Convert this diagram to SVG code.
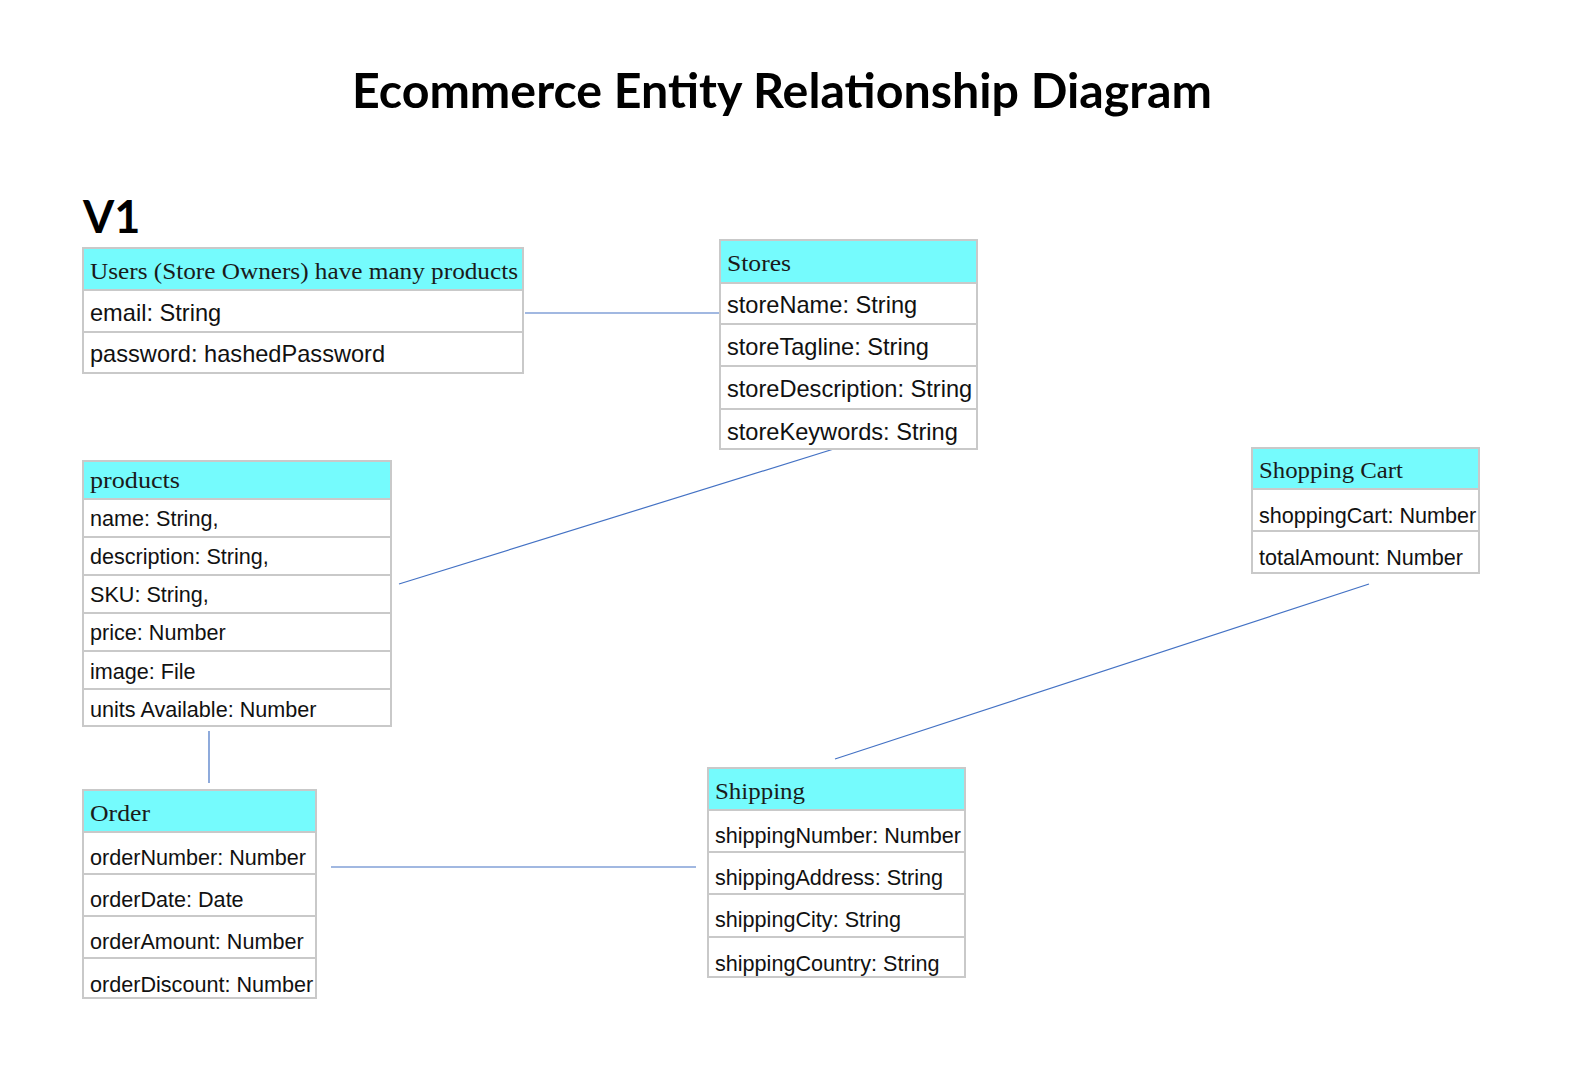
<svg xmlns="http://www.w3.org/2000/svg" width="1574" height="1072" viewBox="0 0 1574 1072">
<style>
.bg{fill:#ffffff}
.title{font-family:"Lato","Open Sans","Liberation Sans",sans-serif;font-weight:bold;font-size:48px;fill:#000}
.ver{font-family:"Lato","Open Sans","Liberation Sans",sans-serif;font-weight:bold;font-size:45px;fill:#000}
.box{fill:#ffffff;stroke:#c9c9c9;stroke-width:2}
.hdr{fill:#75fbfd}
.sep{stroke:#c9c9c9;stroke-width:2}
.h{font-family:"Liberation Serif","DejaVu Serif",serif;font-size:24px;fill:#1a1a1a}
.t{font-family:"Liberation Sans","Arial",sans-serif;font-size:23.6px;fill:#111}
.s{font-family:"Liberation Sans","Arial",sans-serif;font-size:21.6px;fill:#111}
.conn line{stroke:#4472c4;stroke-width:1.2;fill:none}
</style>
<rect class="bg" x="0" y="0" width="1574" height="1072"/>
<text class="title" x="352" y="108" textLength="860" lengthAdjust="spacingAndGlyphs">Ecommerce Entity Relationship Diagram</text>
<text class="ver" x="83" y="233">V1</text>

<g id="connectors" class="conn">
<line x1="525" y1="313" x2="728" y2="313"/>
<line x1="853" y1="443" x2="399" y2="584"/>
<line x1="209" y1="731" x2="209" y2="783"/>
<line x1="331" y1="867" x2="696" y2="867"/>
<line x1="1369" y1="584" x2="835" y2="759"/>
</g>

<g id="users">
<rect class="box" x="83" y="248" width="440" height="125"/>
<rect class="hdr" x="84" y="249" width="438" height="40"/>
<line class="sep" x1="83" y1="290" x2="523" y2="290"/>
<line class="sep" x1="83" y1="332" x2="523" y2="332"/>
<text class="h" x="90" y="279" textLength="428" lengthAdjust="spacingAndGlyphs">Users (Store Owners) have many products</text>
<text class="t" x="90" y="321">email: String</text>
<text class="t" x="90" y="362">password: hashedPassword</text>
</g>

<g id="stores">
<rect class="box" x="720" y="240" width="257" height="209"/>
<rect class="hdr" x="721" y="241" width="255" height="41"/>
<line class="sep" x1="720" y1="283" x2="977" y2="283"/>
<line class="sep" x1="720" y1="324" x2="977" y2="324"/>
<line class="sep" x1="720" y1="366" x2="977" y2="366"/>
<line class="sep" x1="720" y1="409" x2="977" y2="409"/>
<text class="h" x="727" y="271" textLength="64" lengthAdjust="spacingAndGlyphs">Stores</text>
<text class="t" x="727" y="313">storeName: String</text>
<text class="t" x="727" y="355">storeTagline: String</text>
<text class="t" x="727" y="397">storeDescription: String</text>
<text class="t" x="727" y="440">storeKeywords: String</text>
</g>

<g id="products">
<rect class="box" x="83" y="461" width="308" height="265"/>
<rect class="hdr" x="84" y="462" width="306" height="36"/>
<line class="sep" x1="83" y1="499" x2="391" y2="499"/>
<line class="sep" x1="83" y1="537" x2="391" y2="537"/>
<line class="sep" x1="83" y1="575" x2="391" y2="575"/>
<line class="sep" x1="83" y1="613" x2="391" y2="613"/>
<line class="sep" x1="83" y1="651" x2="391" y2="651"/>
<line class="sep" x1="83" y1="689" x2="391" y2="689"/>
<text class="h" x="90" y="488" textLength="90" lengthAdjust="spacingAndGlyphs">products</text>
<text class="s" x="90" y="526">name: String,</text>
<text class="s" x="90" y="564">description: String,</text>
<text class="s" x="90" y="602">SKU: String,</text>
<text class="s" x="90" y="640">price: Number</text>
<text class="s" x="90" y="679">image: File</text>
<text class="s" x="90" y="717">units Available: Number</text>
</g>

<g id="order">
<rect class="box" x="83" y="790" width="233" height="208"/>
<rect class="hdr" x="84" y="791" width="231" height="40"/>
<line class="sep" x1="83" y1="832" x2="316" y2="832"/>
<line class="sep" x1="83" y1="874" x2="316" y2="874"/>
<line class="sep" x1="83" y1="916" x2="316" y2="916"/>
<line class="sep" x1="83" y1="958" x2="316" y2="958"/>
<text class="h" x="90" y="821" textLength="60" lengthAdjust="spacingAndGlyphs">Order</text>
<text class="s" x="90" y="865">orderNumber: Number</text>
<text class="s" x="90" y="907">orderDate: Date</text>
<text class="s" x="90" y="949">orderAmount: Number</text>
<text class="s" x="90" y="992">orderDiscount: Number</text>
</g>

<g id="shipping">
<rect class="box" x="708" y="768" width="257" height="209"/>
<rect class="hdr" x="709" y="769" width="255" height="40"/>
<line class="sep" x1="708" y1="810" x2="965" y2="810"/>
<line class="sep" x1="708" y1="852" x2="965" y2="852"/>
<line class="sep" x1="708" y1="894" x2="965" y2="894"/>
<line class="sep" x1="708" y1="937" x2="965" y2="937"/>
<text class="h" x="715" y="799" textLength="90" lengthAdjust="spacingAndGlyphs">Shipping</text>
<text class="s" x="715" y="843">shippingNumber: Number</text>
<text class="s" x="715" y="885">shippingAddress: String</text>
<text class="s" x="715" y="927">shippingCity: String</text>
<text class="s" x="715" y="971">shippingCountry: String</text>
</g>

<g id="shopping-cart">
<rect class="box" x="1252" y="448" width="227" height="125"/>
<rect class="hdr" x="1253" y="449" width="225" height="39"/>
<line class="sep" x1="1252" y1="489" x2="1479" y2="489"/>
<line class="sep" x1="1252" y1="531" x2="1479" y2="531"/>
<text class="h" x="1259" y="478" textLength="144" lengthAdjust="spacingAndGlyphs">Shopping Cart</text>
<text class="s" x="1259" y="523">shoppingCart: Number</text>
<text class="s" x="1259" y="565">totalAmount: Number</text>
</g>
</svg>
